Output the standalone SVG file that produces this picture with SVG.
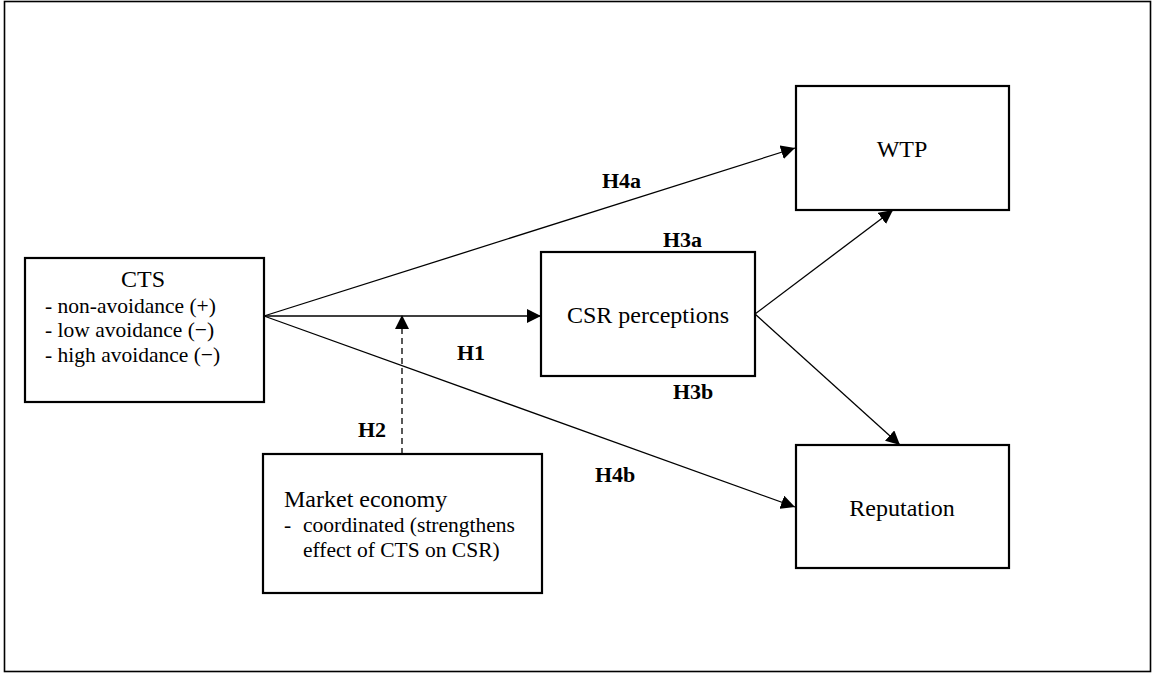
<svg xmlns="http://www.w3.org/2000/svg" width="1155" height="675" viewBox="0 0 1155 675">
<style>
.box{fill:#fff;stroke:#000;stroke-width:2.2}
text{font-family:'Liberation Serif','Times New Roman',Times,'DejaVu Serif',serif;fill:#000}
.t{font-size:21.5px}
.T{font-size:24px}
.h{font-size:22px;font-weight:bold}
.c{stroke:#000;stroke-width:1.3;fill:none}
</style>
<defs>
<marker id="ah" viewBox="0 0 14 14" refX="14" refY="7" markerWidth="14" markerHeight="14" markerUnits="userSpaceOnUse" orient="auto">
<path d="M0,0 L14,7 L0,14 Z" fill="#000"/>
</marker>
</defs>
<rect x="0" y="0" width="1155" height="675" fill="#fff"/>
<rect x="4.5" y="1.5" width="1146" height="670" fill="none" stroke="#000" stroke-width="1.6"/>
<g id="connectors">
<line class="c" x1="264" y1="316" x2="541" y2="316" marker-end="url(#ah)"/>
<line class="c" x1="264" y1="316" x2="795" y2="148" marker-end="url(#ah)"/>
<line class="c" x1="264" y1="316" x2="795" y2="507" marker-end="url(#ah)"/>
<line class="c" x1="402" y1="454" x2="402" y2="315" stroke-dasharray="6,4" marker-end="url(#ah)"/>
<line class="c" x1="755" y1="314" x2="893" y2="210" marker-end="url(#ah)"/>
<line class="c" x1="755" y1="314" x2="900" y2="445" marker-end="url(#ah)"/>
<text class="h" x="602" y="188">H4a</text>
<text class="h" x="663" y="247">H3a</text>
<text class="h" x="457" y="360">H1</text>
<text class="h" x="673" y="399">H3b</text>
<text class="h" x="358" y="437">H2</text>
<text class="h" x="595" y="482">H4b</text>
</g>
<g id="cts">
<rect class="box" x="25" y="258" width="239" height="144"/>
<text class="T" x="143" y="287" text-anchor="middle">CTS</text>
<text class="t" x="45" y="313">- non-avoidance (+)</text>
<text class="t" x="45" y="337">- low avoidance (−)</text>
<text class="t" x="45" y="362">- high avoidance (−)</text>
</g>
<g id="market">
<rect class="box" x="263" y="454" width="279" height="139"/>
<text class="T" x="284" y="507">Market economy</text>
<text class="t" x="284" y="532">-</text>
<text class="t" x="303" y="532">coordinated (strengthens</text>
<text class="t" x="303" y="557">effect of CTS on CSR)</text>
</g>
<g id="csr">
<rect class="box" x="541" y="252" width="214" height="124"/>
<text class="T" x="648" y="323" text-anchor="middle">CSR perceptions</text>
</g>
<g id="wtp">
<rect class="box" x="796" y="86" width="213" height="124"/>
<text class="T" x="902" y="157" text-anchor="middle">WTP</text>
</g>
<g id="reputation">
<rect class="box" x="796" y="445" width="213" height="123"/>
<text class="T" x="902" y="516" text-anchor="middle">Reputation</text>
</g>
</svg>
